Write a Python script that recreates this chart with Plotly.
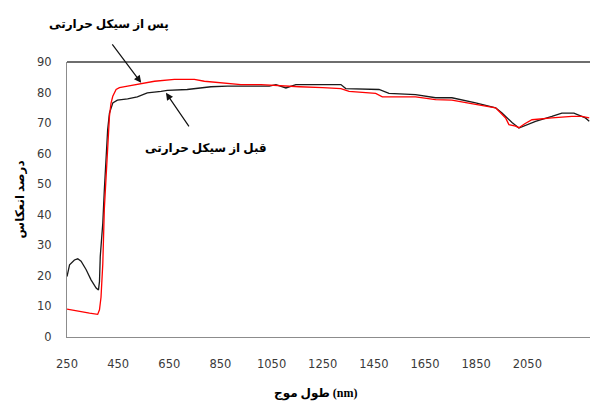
import plotly.graph_objects as go

# Wavelength (nm) and reflectance (%) after the thermal cycle
after_wl = [250, 299, 338, 370, 377, 383, 390, 396, 403, 409, 416, 422, 429, 442, 455,
            487, 540, 592, 670, 748, 787, 877, 930, 1008, 1041, 1100, 1158, 1250, 1321,
            1353, 1457, 1483, 1613, 1691, 1755, 1848, 1926, 1965, 1978, 2004, 2017, 2040,
            2068, 2146, 2224, 2263, 2292]
after_refl = [9.1, 8.3, 7.8, 7.4, 8.9, 13.0, 24.0, 42.0, 54.0, 64.6, 72.2, 76.5, 78.8, 81.0, 81.6,
              82.1, 83.0, 83.7, 84.3, 84.3, 83.7, 83.0, 82.6, 82.6, 82.5, 82.2, 81.9, 81.6, 81.3,
              80.4, 79.7, 78.6, 78.6, 77.7, 77.5, 76.1, 75.0, 71.7, 69.5, 69.0, 68.5, 69.8,
              71.1, 71.7, 72.2, 72.2, 71.7]

# Wavelength (nm) and reflectance (%) before the thermal cycle
before_wl = [250, 260, 279, 292, 305, 325, 344, 364, 373, 377, 380, 387, 390, 396, 403, 409,
             416, 429, 447, 487, 525, 564, 618, 642, 720, 813, 877, 1010, 1041, 1067, 1106,
             1145, 1321, 1340, 1470, 1509, 1613, 1691, 1755, 1848, 1926, 1950, 1990, 2017,
             2082, 2146, 2185, 2232, 2277, 2292]
before_refl = [19.8, 23.6, 25.2, 25.6, 24.8, 22.0, 18.7, 16.0, 15.4, 18.1, 26.3, 33.0, 37.3, 48.2, 59.0, 67.9,
               73.3, 76.6, 77.5, 77.9, 78.6, 79.9, 80.4, 80.7, 81.0, 81.9, 82.1, 82.1, 82.1, 82.6, 81.5,
               82.6, 82.6, 81.3, 81.0, 79.7, 79.3, 78.3, 78.3, 76.6, 75.0, 73.4, 70.2, 68.4,
               70.6, 72.2, 73.3, 73.3, 71.7, 70.6]

x_ticks = [250, 450, 650, 850, 1050, 1250, 1450, 1650, 1850, 2050]
y_ticks = [0, 10, 20, 30, 40, 50, 60, 70, 80, 90]

label_after = "پس از سیکل حرارتی"
label_before = "قبل از سیکل حرارتی"
x_title = "طول موج (nm)"
y_title = "درصد انعکاس"

fig = go.Figure()
fig.add_trace(go.Scatter(x=before_wl, y=before_refl, mode="lines",
                         line=dict(color="#1a1a1a", width=1.3), showlegend=False))
fig.add_trace(go.Scatter(x=after_wl, y=after_refl, mode="lines",
                         line=dict(color="#ff0000", width=1.3), showlegend=False))

tick_font = dict(family="DejaVu Sans", size=11.5, color="#3a3a3a")
title_font = dict(family="Liberation Serif, DejaVu Sans", size=12, color="#000000")

fig.update_xaxes(range=[250, 2295], tickvals=x_ticks, ticktext=[str(v) for v in x_ticks],
                 showgrid=False, zeroline=False, showline=True, linecolor="#8c8c8c",
                 linewidth=1, ticks="", tickfont=tick_font, ticklabelstandoff=16)
fig.update_yaxes(range=[0, 90], tickvals=y_ticks, showgrid=False, zeroline=False,
                 showline=True, linecolor="#8c8c8c", linewidth=1, ticks="",
                 tickfont=tick_font, ticklabelstandoff=12)

annotations = [
    # Axis titles
    dict(text="<b>" + x_title + "</b>", xref="paper", yref="paper", x=0.477, y=-0.204,
         xanchor="center", yanchor="middle", showarrow=False, font=title_font),
    dict(text="<b>" + y_title + "</b>", xref="paper", yref="paper", x=-0.09, y=0.5,
         xanchor="center", yanchor="middle", showarrow=False, textangle=-90, font=title_font),
    # Curve labels
    dict(text="<b>" + label_after + "</b>", xref="paper", yref="paper", x=0.081, y=1.137,
         xanchor="center", yanchor="middle", showarrow=False, font=title_font),
    dict(text="<b>" + label_before + "</b>", xref="paper", yref="paper", x=0.266, y=0.687,
         xanchor="center", yanchor="middle", showarrow=False, font=title_font),
    # Arrows pointing at the curves
    dict(x=540, y=83.2, xref="x", yref="y", ax=-30, ay=-40, axref="pixel", ayref="pixel",
         text="", showarrow=True, arrowhead=2, arrowsize=1.2, arrowwidth=1.2, arrowcolor="#111111"),
    dict(x=637, y=79.9, xref="x", yref="y", ax=24, ay=35, axref="pixel", ayref="pixel",
         text="", showarrow=True, arrowhead=2, arrowsize=1.2, arrowwidth=1.2, arrowcolor="#111111"),
]

fig.update_layout(
    width=590, height=405,
    margin=dict(l=67, r=0, t=62, b=68),
    paper_bgcolor="white", plot_bgcolor="white",
    annotations=annotations,
    shapes=[dict(type="line", xref="paper", yref="paper", x0=0, x1=1, y0=1, y1=1,
                 line=dict(color="#6e6e6e", width=2))],
)

fig.write_html("out.html")
